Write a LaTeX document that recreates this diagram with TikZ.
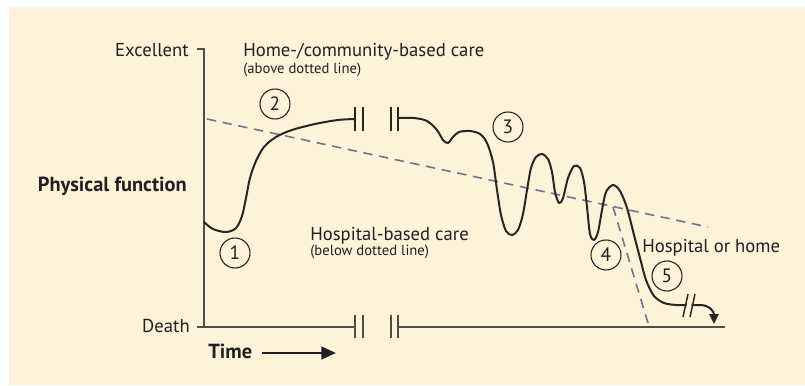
\documentclass[tikz,border=0pt]{standalone}
\usepackage{fontspec}
\setmainfont{PT Sans}
\usetikzlibrary{arrows.meta}
\definecolor{bgc}{RGB}{254,242,217}
\definecolor{txt}{RGB}{35,31,32}
\definecolor{axc}{RGB}{80,76,70}
\definecolor{crv}{RGB}{42,37,32}
\definecolor{dsh}{RGB}{110,118,135}
\begin{document}
\begin{tikzpicture}[x=0.75pt,y=-0.75pt,
  lbl/.style={text=txt,font=\fontsize{14}{16}\selectfont,inner sep=0pt},
  sml/.style={text=txt,font=\fontsize{11}{13}\selectfont,inner sep=0pt},
  bld/.style={text=txt,font=\fontsize{15.3}{17}\selectfont\bfseries,inner sep=0pt},
  num/.style={circle,draw=txt,line width=0.8pt,minimum size=22.5pt,inner sep=0pt,text=txt,font=\fontsize{14.5}{16}\selectfont},
  axis/.style={draw=axc,line width=1.1pt},
  curve/.style={draw=crv,line width=1.5pt,line cap=round,line join=round},
  brk/.style={draw=crv,line width=1.1pt},
  dline/.style={draw=dsh,line width=1.2pt,dash pattern=on 7pt off 5pt}]
\useasboundingbox (0,0) rectangle (805,385);
\fill[white] (0,0) rectangle (805,385);
\fill[bgc] (9,7) rectangle (805,385);

% axes
\coordinate (ytop) at (204,49);
\coordinate (ytick) at (197,49);
\coordinate (orig) at (204,327);
\coordinate (xl) at (197,327);
\coordinate (xb1) at (355,327);
\coordinate (xb2) at (398,327);
\coordinate (xend) at (725,327);
\draw[axis] (ytick) -- (ytop) -- (orig);
\draw[axis] (xl) -- (xb1);
\draw[axis] (xb2) -- (xend);
\foreach \x in {355,363,391,398}{\draw[axis] (\x,315) -- (\x,338);}

% dashed lines
\coordinate (d1) at (207,119);
\coordinate (d2) at (708,227);
\coordinate (d3) at (613,207);
\coordinate (d4) at (648,323);
\draw[dline] (d1) -- (d2);
\draw[dline] (d3) -- (d4);

% curve part 1
\draw[curve] plot[smooth,tension=0.55] coordinates {(204,222) (213,229) (226,232) (236,228) (242,216) (246,198) (250,178) (256,161) (264,147) (276,137) (292,130) (315,124) (338,120) (355,119)};
\foreach \x in {355,363,391,398}{\draw[brk] (\x,107) -- (\x,131);}
% curve part 2
\draw[curve] plot[smooth,tension=0.5] coordinates {(398,118) (414,118) (427,121) (437,130) (443,140) (448,143) (453,137) (459,132) (470,131) (480,134) (487,143) (493,162) (497,190) (501,215) (506,231) (512,235) (518,230) (523,214) (527,190) (531,168) (536,157) (542,154) (548,159) (552,172) (555,192) (559,203) (563,198) (568,178) (574,166) (580,168) (584,182) (587,207) (590,234) (594,240) (598,232) (602,210) (606,192) (613,185) (620,191) (627,208) (634,235) (640,258) (646,280) (654,296) (664,303) (676,305) (686,305)};
\draw[brk] (683,317) -- (688,294);
\draw[brk] (690,317) -- (695,294);
\coordinate (e1) at (692,305);
\coordinate (e2) at (714,324);
\draw[curve,-{Triangle[length=7.5pt,width=7pt]}] (e1) -- (700,305) .. controls (710,305) and (714,312) .. (e2);

% circled numbers
\node[num] (n1) at (235,253) {1};
\node[num] (n2) at (275,104) {2};
\node[num] (n3) at (508,127) {3};
\node[num] (n4) at (606,255) {4};
\node[num] (n5) at (667,276) {5};

% labels
\node[lbl,anchor=base east] (exc) at (189,56) {Excellent};
\node[lbl,anchor=base east] (dth) at (190,332) {Death};
\node[bld,anchor=base east] (pf) at (187,191) {Physical function};
\node[lbl,anchor=base west] (home) at (243,56) {Home-/community-based care};
\node[sml,anchor=base west] (above) at (243,74) {(above dotted line)};
\node[lbl,anchor=base west] (hosp) at (310,240) {Hospital-based care};
\node[sml,anchor=base west] (below) at (310,255) {(below dotted line)};
\node[lbl,anchor=base west] (hoh) at (642,252) {Hospital or home};
\node[bld,anchor=base west] (time) at (208,358) {Time};
\coordinate (t1) at (262,353);
\coordinate (t2) at (336,353);
\draw[draw=txt,line width=1.9pt,-{Triangle[length=11pt,width=9.5pt]}] (t1) -- (t2);
\end{tikzpicture}
\end{document}
